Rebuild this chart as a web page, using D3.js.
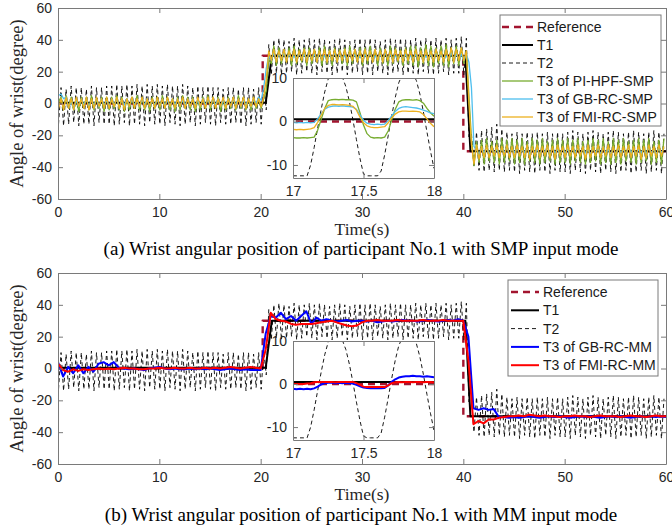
<!DOCTYPE html>
<html>
<head>
<meta charset="utf-8">
<script src="https://cdn.jsdelivr.net/npm/d3@7"></script>
<style>
  body { margin: 0; background: #fff; }
</style>
</head>
<body>
<svg id="chart" width="672" height="529"></svg>
<script>
// ---- data ----
var xTicks = [0, 10, 20, 30, 40, 50, 60];
var yTicks = [-60, -40, -20, 0, 20, 40, 60];
var insetXTicks = [17, 17.5, 18];
var insetYTicks = [-10, 0, 10];

var refTimes = [0, 20.2, 20.2, 40, 40, 60];
var refValues = [0, 0, 30, 30, -30, -30];
var t1Times = [0, 20.5, 21.1, 40.2, 40.7, 60];
var t1Values = [0.5, 0.5, 30, 30, -30, -30];

// oscillating signals: one value per extreme, every 0.25 s from 0.05 s
var t2Values = [
  -13,10,-14,9,-13,11,-12,10,-14,10,-13,9,-13,11,-14,10,-12,10,-13,11,
  -13,11,-14,12,-13,11,-12,12,-14,11,-13,12,-13,11,-14,12,-12,11,-13,12,
  -13,11,-14,12,-12,11,-13,11,-14,12,-13,11,-12,10,-14,11,-13,10,-12,11,
  -13,10,-14,10,-12,9,-13,10,-13,10,-12,9,-13,10,-14,10,-13,9,-12,10,
  -13,11,-4,37,18,40,19,41,18,40,19,39,20,41,18,40,19,40,20,41,
  19,40,18,41,20,40,19,39,18,40,19,41,20,40,18,39,19,40,20,41,
  18,40,19,41,18,40,20,39,19,40,18,41,19,40,20,41,18,40,19,40,
  19,41,18,40,20,41,19,40,18,41,19,40,20,41,18,40,19,41,19,42,
  18,41,-21,-19,-40,-18,-42,-17,-43,-16,-42,-15,-43,-13,-42,-16,-43,-18,-42,-19,
  -43,-18,-44,-19,-42,-18,-43,-19,-44,-18,-42,-19,-43,-18,-44,-19,-42,-18,-43,-19,
  -43,-18,-44,-17,-42,-18,-43,-19,-44,-18,-42,-17,-43,-18,-44,-19,-42,-18,-43,-17,
  -44,-18,-43,-19,-42,-18,-44,-17,-43,-18,-42,-19,-44,-18,-43,-17,-42,-18,-44,-19
];
var piHpfSmp = [
  1,4,-4,5,-3,4,-4,3,-5,4,-3,4,-4,5,-4,3,-3,4,-5,4,
  -4,4,-3,5,-4,4,-5,3,-4,4,-3,5,-4,4,-4,3,-5,4,-3,4,
  -4,5,-3,4,-4,3,-5,4,-4,5,-3,4,-4,4,-5,3,-4,4,-3,5,
  -4,4,-3,4,-5,3,-4,4,-3,4,-4,5,-3,4,-4,3,-4,4,-3,3,
  -3,3,8,28,25,36,24,35,25,34,26,35,24,36,25,34,26,35,24,35,
  25,34,26,35,24,36,25,34,24,35,26,34,25,35,24,36,25,34,26,35,
  24,35,25,36,26,34,24,35,25,34,24,36,25,35,26,34,24,35,25,36,
  24,36,23,35,25,37,24,36,23,35,25,36,24,37,23,35,25,36,24,35,
  25,33,5,-22,-39,-24,-37,-23,-38,-22,-36,-24,-37,-23,-38,-22,-37,-23,-36,-22,
  -38,-23,-37,-22,-38,-24,-36,-22,-37,-23,-38,-22,-37,-24,-36,-23,-38,-22,-37,-23,
  -37,-22,-38,-23,-36,-22,-37,-24,-38,-23,-37,-22,-36,-23,-38,-22,-37,-24,-38,-22,
  -37,-23,-38,-22,-36,-24,-37,-23,-38,-22,-37,-23,-36,-22,-38,-24,-37,-23,-38,-22
];
var gbRcSmp = [
  5,6,3,4,-3,1,-4,2,-2,3,-1,3,-2,2,-1,3,-2,3,-1,2,
  -2,3,-1,3,-2,2,-1,3,-2,3,-1,2,-2,3,-1,3,-2,2,-1,3,
  -2,3,-1,2,-2,3,-1,3,-2,2,-1,3,-2,3,-1,2,-2,3,-1,3,
  -2,3,-1,3,-2,2,-1,3,-2,3,-1,3,-2,2,-1,3,-2,3,0,4,
  2,10,22,30,27,32,27,31,28,32,27,31,28,30,27,32,28,31,27,32,
  28,31,27,32,28,30,27,31,28,32,27,31,28,30,27,32,28,31,27,30,
  27,31,28,32,27,30,28,31,27,32,28,31,27,30,28,32,27,31,28,30,
  27,31,28,32,27,30,28,31,27,32,28,31,27,30,28,32,27,31,28,31,
  27,31,26,10,-27,-29,-32,-28,-31,-27,-32,-28,-31,-29,-32,-28,-31,-27,-32,-28,
  -31,-28,-32,-29,-31,-27,-32,-28,-31,-29,-32,-28,-31,-27,-32,-28,-31,-29,-32,-28,
  -31,-29,-32,-28,-31,-27,-32,-28,-31,-29,-32,-28,-31,-28,-32,-27,-31,-29,-32,-28,
  -32,-28,-31,-29,-32,-27,-31,-28,-32,-29,-31,-28,-32,-27,-31,-29,-32,-28,-31,-28
];
var fmiRcSmp = [
  -3,3,-4,4,-3,3,-4,4,-2,3,-3,4,-4,3,-3,4,-2,3,-3,4,
  -3,3,-2,4,-3,3,-4,3,-2,4,-3,3,-2,4,-3,3,-2,3,-3,4,
  -2,3,-3,4,-2,3,-3,3,-2,4,-3,3,-2,3,-3,4,-2,3,-3,4,
  -2,4,-3,3,-2,4,-3,3,-2,4,-3,3,-2,4,-3,3,-2,4,-2,3,
  -2,4,15,33,27,34,26,33,27,34,26,33,27,34,26,33,27,34,26,33,
  27,34,26,33,27,34,26,33,27,34,26,33,27,34,26,33,27,34,26,33,
  26,34,27,33,26,34,27,33,26,34,27,33,26,34,27,33,26,34,27,33,
  26,34,27,33,26,34,27,33,26,34,27,33,26,34,27,35,26,34,27,35,
  27,33,0,-26,-38,-26,-35,-27,-34,-26,-34,-27,-33,-26,-34,-27,-33,-26,-34,-27,
  -34,-26,-33,-27,-34,-26,-35,-27,-33,-26,-34,-27,-33,-26,-34,-27,-35,-26,-33,-27,
  -34,-26,-33,-27,-34,-26,-33,-27,-35,-26,-34,-27,-33,-26,-34,-27,-33,-26,-34,-27,
  -33,-26,-34,-27,-33,-26,-34,-27,-33,-26,-35,-27,-34,-26,-33,-27,-34,-26,-33,-27
];

// MM mode outputs, every 0.5 s from 0 s
var gbRcMm = [
  4,-5,1,-3,2,-3,1,-2,3,4,
  2,4,0.5,0,-0.5,0,-0.5,-1,0,0.5,
  1,0,-0.5,0,-0.5,-0.5,0,-0.5,0,-0.5,
  0,-0.5,-1,-0.5,0,-0.5,-1,-0.5,-1,-1,
  -1,22,33,32,35,31,33,30,33,36,
  28,32,30,31,30,29.5,30,30.5,29.5,30,
  30,29.5,30,29,29.5,30,29.5,30,30.5,30,
  30,29.5,30,30.5,30,29.5,30,30.5,30,31,
  30,20,-25,-26,-25,-26,-25.5,-30.5,-30.5,-31,
  -30.5,-31,-30.5,-30,-30.5,-31,-30.5,-30,-30.5,-30,
  -30.5,-31,-30.5,-30,-30.5,-30,-30.5,-31,-30.5,-30,
  -30.5,-30,-30.5,-31,-30.5,-30,-30.5,-30,-30.5,-30,
  -30.5
];
var fmiRcMm = [
  3,-1,-2,-0.5,-1.5,-0.5,-1,-0.5,0,-0.5,
  0,-0.5,0,0.5,0,0,-0.5,-0.5,0,0,
  0.5,0,0,0.5,0,0,0.5,0,0,0.5,
  0,0.5,0,0.5,1,0.5,0,0.5,1,0.5,
  0,12,35,31,30,29.5,28,27.5,28,28,
  28,28.5,29,29.5,30,29,28,27,26.5,27,
  29,30,30,30.5,30,30,30,30.5,30,30,
  30,30,30.5,30,30,30,30.5,30,30,30,
  30,5,-35,-33,-34.5,-32,-32,-31,-30.5,-30,
  -30,-29.5,-30,-29,-29.5,-30,-29.5,-30,-30,-30.5,
  -30,-30,-29.5,-30,-30,-30.5,-30,-29.5,-30,-30,
  -30,-30.5,-30,-29.5,-30,-30,-30.5,-30,-29.5,-30,
  -30
];

// zoomed window 17-18 s, every 0.025 s
var insetT2 = [-12.5,-12.5,-12.5,-12.5,-12.5,-10,-6,-1.5,2.8,6.8,9.8,11.2,11.6,11.3,10.2,8,4.6,0.4,-4.2,-8.5,
  -12.1,-12.5,-12.5,-12.5,-12.5,-11.4,-7.7,-3.3,1.3,5.5,8.9,10.8,11.6,11.7,11,9.4,6.3,2.2,-2.4,-6.8,-10.8];
var insetPiHpfSmp = [-3.7,-3.8,-3.8,-3.7,-3.8,-3.7,-3.6,-2,0.5,3,4.8,5,5.1,5,5.1,5,5,4.9,4.5,2,
  -0.8,-2.8,-3.6,-3.8,-3.7,-3.8,-3.6,-2.2,0.3,2.8,4.5,4.9,5,5,4.9,5,4.8,4.2,3,2,1.2];
var insetGbRcSmp = [-0.2,-0.3,-0.2,-0.3,-0.2,-0.3,-0.2,0.6,1.8,2.8,3.3,3.5,3.6,3.5,3.6,3.5,3.4,3.3,2.8,1.5,
  0.3,-0.4,-0.6,-0.7,-0.6,-0.7,-0.6,0.2,1.3,2.3,3,3.3,3.4,3.3,3.2,3.1,2.9,2.6,2.3,2,1.8];
var insetFmiRcSmp = [-1.8,-1.9,-1.8,-1.9,-1.8,-1.7,-1.4,-0.2,1.5,3,3.7,3.9,3.9,3.8,3.9,3.8,3.7,3.5,2.6,1,
  -0.3,-1,-1.3,-1.4,-1.4,-1.3,-1.2,-0.3,0.8,1.7,2.2,2.4,2.4,2.3,2.4,2.3,2.2,1.6,0.6,-0.4,-1.2];
var insetGbRcMm = [-1.1,-1.2,-1.1,-1.2,-1.1,-1.2,-1,-0.6,-0.1,0.2,0.3,0.3,0.2,0.3,0.2,0.3,0.2,0.1,-0.2,-0.5,
  -0.8,-0.9,-1,-1,-0.9,-1,-0.9,-0.3,0.5,1.1,1.5,1.7,1.8,1.8,1.9,1.8,1.8,1.7,1.8,1.7,1.6];
var insetFmiRcMm = [0,0,0,0,0.1,0.2,0.4,0.5,0.5,0.5,0.5,0.5,0.4,0.5,0.5,0.5,0.5,0.5,0.2,-0.2,
  -0.6,-0.7,-0.7,-0.7,-0.7,-0.7,-0.7,-0.3,0.2,0.4,0.5,0.4,0.5,0.5,0.4,0.5,0.5,0.4,0.5,0.5,0.4];

var captions = ['(a) Wrist angular position of participant No.1 with SMP input mode',
                '(b) Wrist angular position of participant No.1 with MM input mode'];

var peakTimes = d3.range(t2Values.length).map(function (k) { return 0.05 + 0.25 * k; });
var mmTimes = d3.range(gbRcMm.length).map(function (k) { return 0.5 * k; });
var insetTimes = d3.range(insetT2.length).map(function (k) { return 17 + 0.025 * k; });

// ---- drawing ----
var svg = d3.select('#chart');
var axisColor = '#7a7a7a';
var sansFont = '"Liberation Sans", Arial, sans-serif';
var serifFont = '"Liberation Serif", "Times New Roman", serif';
var x = d3.scaleLinear().domain([0, 60]).range([58, 666]);

var styles = {
  ref:   { color: '#a2142f', width: 2.4, dash: '7,5' },
  t1:    { color: '#000000', width: 2, dash: null },
  t2:    { color: '#000000', width: 0.9, dash: '4,3' },
  green: { color: '#77ac30', width: 1.3, dash: null },
  cyan:  { color: '#4dbeee', width: 1.3, dash: null },
  gold:  { color: '#edb120', width: 1.3, dash: null },
  blue:  { color: '#0000ff', width: 2, dash: null },
  red:   { color: '#ff0000', width: 2, dash: null }
};

function frame(g, xs, ys, xt, yt) {
  var r = xs.range(), d = ys.range();
  var fmt = function (v) { return String(v); };
  g.append('g').attr('transform', 'translate(0,' + d[0] + ')')
    .call(d3.axisBottom(xs).tickValues(xt).tickSizeInner(-5).tickSizeOuter(0).tickPadding(8).tickFormat(fmt));
  g.append('g').attr('transform', 'translate(0,' + d[1] + ')')
    .call(d3.axisTop(xs).tickValues(xt).tickSizeInner(-5).tickSizeOuter(0).tickFormat(''));
  g.append('g').attr('transform', 'translate(' + r[0] + ',0)')
    .call(d3.axisLeft(ys).tickValues(yt).tickSizeInner(-5).tickSizeOuter(0).tickPadding(6).tickFormat(fmt));
  g.append('g').attr('transform', 'translate(' + r[1] + ',0)')
    .call(d3.axisRight(ys).tickValues(yt).tickSizeInner(-5).tickSizeOuter(0).tickFormat(''));
  g.selectAll('.domain, .tick line').attr('stroke', axisColor).attr('stroke-width', 1);
  g.selectAll('.tick text').attr('fill', '#262626')
    .attr('font-family', sansFont).attr('font-size', 14);
}

function drawSeries(g, xs, ys, list, clipId) {
  var lines = g.append('g').attr('clip-path', 'url(#' + clipId + ')');
  list.forEach(function (s) {
    var pts = s.times.map(function (t, i) { return [t, s.values[i]]; });
    var line = d3.line().x(function (d) { return xs(d[0]); }).y(function (d) { return ys(d[1]); });
    lines.append('path')
      .attr('d', line(pts))
      .attr('fill', 'none')
      .attr('stroke', s.style.color)
      .attr('stroke-width', s.style.width)
      .attr('stroke-dasharray', s.style.dash)
      .attr('stroke-linejoin', 'round');
  });
}

function clip(id, x0, y0, w, h) {
  svg.append('clipPath').attr('id', id).append('rect')
    .attr('x', x0).attr('y', y0).attr('width', w).attr('height', h);
}

function drawPanel(p) {
  var y = d3.scaleLinear().domain([-60, 60]).range([p.bottom, p.top]);
  var g = svg.append('g');
  clip('main' + p.id, 58, p.top, 608, p.bottom - p.top);

  drawSeries(g, x, y, p.series, 'main' + p.id);
  frame(g, x, y, xTicks, yTicks);

  // zoomed inset
  var ix = d3.scaleLinear().domain([17, 18]).range([p.inset.x0, p.inset.x1]);
  var iy = d3.scaleLinear().domain([-13, 10]).range([p.inset.y1, p.inset.y0]);
  var ig = svg.append('g');
  ig.append('rect')
    .attr('x', p.inset.x0).attr('y', p.inset.y0)
    .attr('width', p.inset.x1 - p.inset.x0).attr('height', p.inset.y1 - p.inset.y0)
    .attr('fill', '#fff');
  clip('inset' + p.id, p.inset.x0, p.inset.y0, p.inset.x1 - p.inset.x0, p.inset.y1 - p.inset.y0);
  drawSeries(ig, ix, iy, p.insetSeries, 'inset' + p.id);
  frame(ig, ix, iy, insetXTicks, insetYTicks);

  // legend
  var L = p.legend;
  var lg = svg.append('g');
  lg.append('rect').attr('x', L.x).attr('y', L.y).attr('width', L.w).attr('height', L.h)
    .attr('fill', '#fff').attr('stroke', axisColor);
  p.series.forEach(function (s, i) {
    var yy = L.row0 + i * L.dy;
    lg.append('line').attr('x1', L.lx0).attr('x2', L.lx1).attr('y1', yy).attr('y2', yy)
      .attr('stroke', s.style.color).attr('stroke-width', s.style.width)
      .attr('stroke-dasharray', s.style.dash);
    lg.append('text').attr('x', L.tx).attr('y', yy).attr('dy', '0.35em')
      .attr('font-family', sansFont).attr('font-size', 14).attr('fill', '#1a1a1a')
      .text(s.name);
  });

  // labels
  svg.append('text').attr('x', 362).attr('y', p.xLabelY).attr('text-anchor', 'middle')
    .attr('font-family', serifFont).attr('font-size', 17.5).attr('fill', '#262626').text('Time(s)');
  svg.append('text')
    .attr('transform', 'translate(23,' + (p.top + p.bottom) / 2 + ') rotate(-90)')
    .attr('text-anchor', 'middle')
    .attr('font-family', serifFont).attr('font-size', 18.5).attr('fill', '#262626')
    .text('Angle of wrist(degree)');
  svg.append('text').attr('x', 361).attr('y', p.captionY).attr('text-anchor', 'middle')
    .attr('font-family', serifFont).attr('font-size', 19).attr('fill', '#000').text(p.caption);
}

drawPanel({
  id: 'a', top: 8, bottom: 199, xLabelY: 235, captionY: 255, caption: captions[0],
  inset: { x0: 293, x1: 434, y0: 78, y1: 178 },
  legend: { x: 500, y: 15, w: 161, h: 111, lx0: 502, lx1: 533, tx: 537, row0: 27, dy: 18 },
  series: [
    { name: 'Reference', times: refTimes, values: refValues, style: styles.ref },
    { name: 'T1', times: t1Times, values: t1Values, style: styles.t1 },
    { name: 'T2', times: peakTimes, values: t2Values, style: styles.t2 },
    { name: 'T3 of PI-HPF-SMP', times: peakTimes, values: piHpfSmp, style: styles.green },
    { name: 'T3 of GB-RC-SMP', times: peakTimes, values: gbRcSmp, style: styles.cyan },
    { name: 'T3 of FMI-RC-SMP', times: peakTimes, values: fmiRcSmp, style: styles.gold }
  ],
  insetSeries: [
    { times: refTimes, values: refValues, style: styles.ref },
    { times: t1Times, values: t1Values, style: styles.t1 },
    { times: insetTimes, values: insetT2, style: styles.t2 },
    { times: insetTimes, values: insetPiHpfSmp, style: styles.green },
    { times: insetTimes, values: insetGbRcSmp, style: styles.cyan },
    { times: insetTimes, values: insetFmiRcSmp, style: styles.gold }
  ]
});

drawPanel({
  id: 'b', top: 273, bottom: 464, xLabelY: 500, captionY: 521, caption: captions[1],
  inset: { x0: 293, x1: 434, y0: 341, y1: 440 },
  legend: { x: 508, y: 280, w: 150, h: 96, lx0: 511, lx1: 539, tx: 543, row0: 292, dy: 18.3 },
  series: [
    { name: 'Reference', times: refTimes, values: refValues, style: styles.ref },
    { name: 'T1', times: t1Times, values: t1Values, style: styles.t1 },
    { name: 'T2', times: peakTimes, values: t2Values, style: styles.t2 },
    { name: 'T3 of GB-RC-MM', times: mmTimes, values: gbRcMm, style: styles.blue },
    { name: 'T3 of FMI-RC-MM', times: mmTimes, values: fmiRcMm, style: styles.red }
  ],
  insetSeries: [
    { times: refTimes, values: refValues, style: styles.ref },
    { times: t1Times, values: t1Values, style: styles.t1 },
    { times: insetTimes, values: insetT2, style: styles.t2 },
    { times: insetTimes, values: insetGbRcMm, style: styles.blue },
    { times: insetTimes, values: insetFmiRcMm, style: styles.red }
  ]
});
</script>
</body>
</html>
